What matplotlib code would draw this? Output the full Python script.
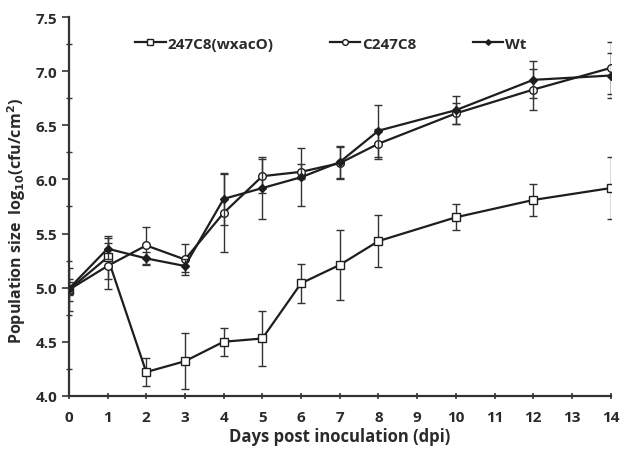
import numpy as np
import matplotlib
matplotlib.use("Agg")
import matplotlib.pyplot as plt
from matplotlib.ticker import MultipleLocator

plt.rcParams['font.family'] = ['Open Sans', 'DejaVu Sans']
plt.rcParams['font.weight'] = 'bold'

days = [0, 1, 2, 3, 4, 5, 6, 7, 8, 10, 12, 14]

# mutant 247C8(wxacO)
mut = [4.98, 5.28, 4.22, 4.32, 4.50, 4.53, 5.04, 5.21, 5.43, 5.65, 5.81, 5.92]
mut_err = [0.20, 0.20, 0.13, 0.26, 0.13, 0.25, 0.18, 0.32, 0.24, 0.12, 0.15, 0.29]

# complemented C247C8
comp = [4.98, 5.20, 5.39, 5.26, 5.69, 6.03, 6.07, 6.15, 6.33, 6.61, 6.83, 7.03]
comp_err = [0.10, 0.21, 0.17, 0.14, 0.36, 0.16, 0.07, 0.15, 0.14, 0.10, 0.19, 0.24]

# wild type
wt = [4.99, 5.36, 5.27, 5.20, 5.82, 5.92, 6.02, 6.16, 6.45, 6.64, 6.92, 6.96]
wt_err = [0.06, 0.10, 0.06, 0.06, 0.24, 0.29, 0.27, 0.15, 0.24, 0.13, 0.17, 0.21]

col = '#1e1e1e'
fig = plt.figure(figsize=(6.2, 4.52), dpi=100)
ax = fig.add_axes([0.111, 0.122, 0.874, 0.838])

e1 = ax.errorbar(days, mut, yerr=mut_err, color=col, lw=1.6, marker='s', ms=5.5,
                 mfc='white', mec=col, mew=1.0, capsize=3, elinewidth=1.0, ecolor='#333333',
                 label='247C8(wxacO)', zorder=3)
e2 = ax.errorbar(days, comp, yerr=comp_err, color=col, lw=1.6, marker='o', ms=5.5,
                 mfc='white', mec=col, mew=1.0, capsize=3, elinewidth=1.0, ecolor='#333333',
                 label='C247C8', zorder=3)
e3 = ax.errorbar(days, wt, yerr=wt_err, color=col, lw=1.6, marker='D', ms=3.8,
                 mfc=col, mec=col, capsize=3, elinewidth=1.0, ecolor='#333333',
                 label='Wt', zorder=4)

ax.set_xlim(0, 14)
ax.set_ylim(4.0, 7.5)
ax.xaxis.set_major_locator(MultipleLocator(1))
ax.yaxis.set_major_locator(MultipleLocator(0.5))
ax.yaxis.set_minor_locator(MultipleLocator(0.25))
ax.yaxis.set_major_formatter(plt.FormatStrFormatter('%.1f'))
ax.spines['top'].set_visible(False)
ax.spines['right'].set_visible(False)
for s in ['left', 'bottom']:
    ax.spines[s].set_linewidth(1.6)
    ax.spines[s].set_color('#333333')
ax.tick_params(axis='x', direction='inout', length=5, width=1.2, labelsize=11, pad=8, colors='#333333')
ax.tick_params(axis='y', which='major', direction='out', length=5, width=1.2, labelsize=11, colors='#333333')
ax.tick_params(axis='y', which='minor', direction='inout', length=4, width=1.0, colors='#333333')
for lab in ax.get_xticklabels() + ax.get_yticklabels():
    lab.set_fontweight('bold')
    lab.set_color('#2a2a2a')

ax.set_xlabel('Days post inoculation (dpi)', fontsize=12, fontweight='bold', color='#2a2a2a', labelpad=2)
ax.set_ylabel(r'Population size  log$_{\mathbf{10}}$(cfu/cm$^{\mathbf{2}}$)', fontsize=11.5,
              fontweight='bold', color='#2a2a2a')
ax.yaxis.set_label_coords(-0.076, 0.464)

handles = [e1[0], e2[0], e3[0]]
leg = ax.legend(handles=handles, labels=['247C8(wxacO)', 'C247C8', 'Wt'],
                loc='upper center', bbox_to_anchor=(0.483, 0.985), ncol=3, frameon=False,
                fontsize=11, handlelength=2.0, handletextpad=0.1, columnspacing=3.7,
                markerscale=0.75)
for t in leg.get_texts():
    t.set_fontweight('bold')
    t.set_color('#2a2a2a')

fig.savefig('out.png', dpi=100)
